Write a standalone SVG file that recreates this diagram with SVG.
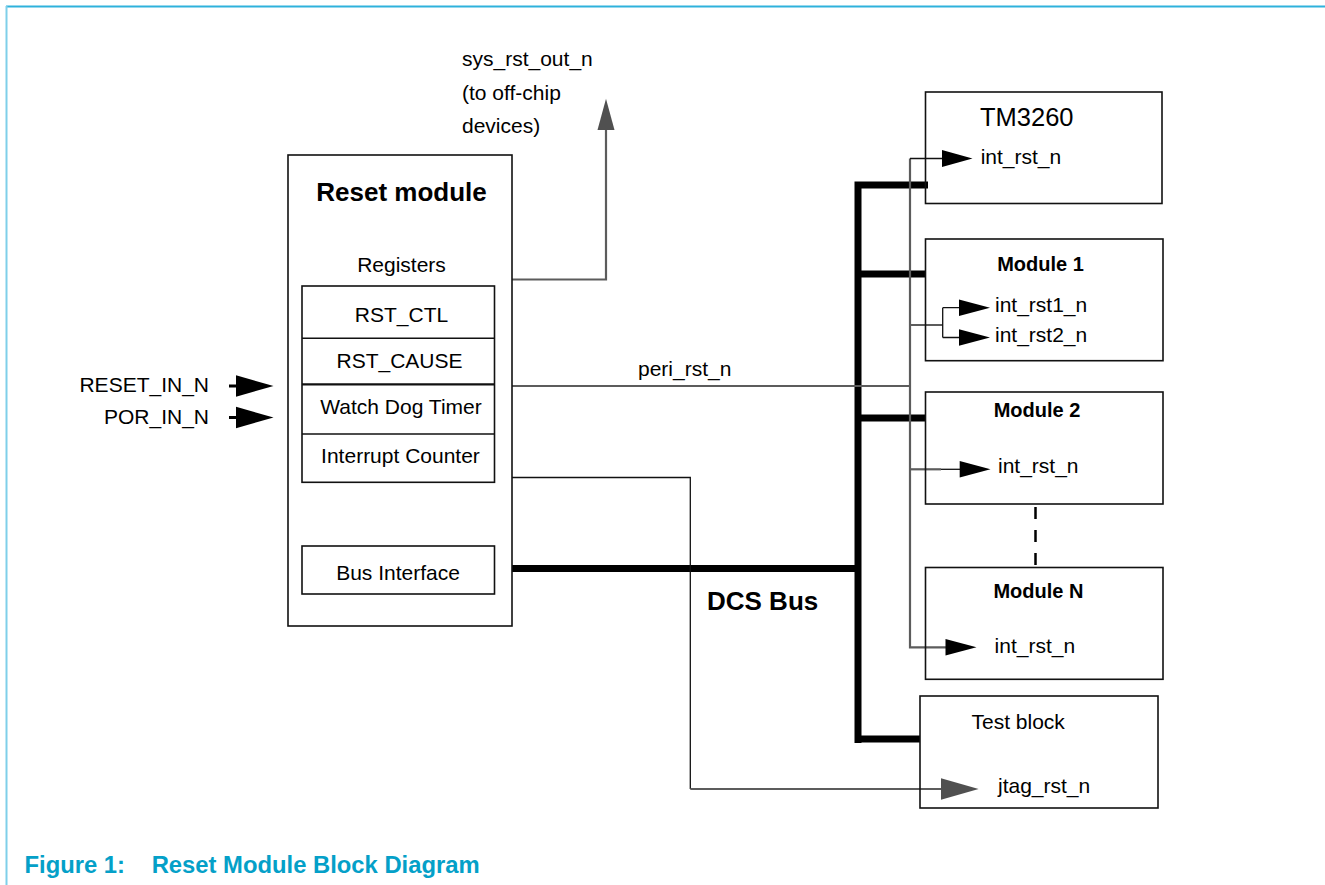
<svg xmlns="http://www.w3.org/2000/svg" width="1325" height="885" viewBox="0 0 1325 885">
<style>
  text { font-family: "Liberation Sans", Arial, sans-serif; fill: #000; }
  .t { font-size: 21px; }
  .b { font-weight: bold; }
  .box { fill: #fff; stroke: #111; stroke-width: 1.6; }
  .reg { fill: none; stroke: #111; stroke-width: 1.6; }
  .gray { fill: none; stroke: #5c5c5c; stroke-width: 2.2; }
  .thin { fill: none; stroke: #111; stroke-width: 1.3; }
  .bus { fill: none; stroke: #000; stroke-width: 7; }
  .head { fill: #000; }
  .ghead { fill: #505050; }
  .cap { font-size: 23.8px; font-weight: bold; fill: #04a0c8; }
</style>

<!-- frame -->
<g id="frame">
  <line x1="6" y1="6.5" x2="1325" y2="6.5" stroke="#2fb2dc" stroke-width="2"/>
  <line x1="6.5" y1="6" x2="6.5" y2="885" stroke="#7fcfe9" stroke-width="2"/>
</g>

<!-- connectors -->
<g id="connectors">
  <!-- DCS bus -->
  <path class="bus" d="M494,568.5 H858 M858,181.5 V743 M855,185 H928 M858,274 H926 M858,418 H926 M858,739 H920"/>
  <!-- sys_rst_out_n -->
  <path class="gray" d="M510,279.5 H606 V126"/>
  <polygon class="ghead" points="606,98.7 597.5,130 614.5,130"/>
  <!-- peri_rst_n -->
  <path class="gray" d="M512,386 H910"/>
  <path class="gray" d="M910,158.5 V647.3 H946"/>
  <!-- TM3260 -->
  <path class="thin" d="M910,158.5 H943"/>
  <polygon class="head" points="972.5,158.5 942,150 942,167"/>
  <!-- Module 1 -->
  <path class="gray" d="M910,325 H942.7"/>
  <path class="thin" d="M942.7,307.7 V337.5 M942.7,307.7 H960 M942.7,337.5 H960"/>
  <polygon class="head" points="990,307.7 959,299.4 959,316"/>
  <polygon class="head" points="990,337.5 959,329.2 959,345.8"/>
  <!-- Module 2 -->
  <path class="gray" d="M910,469.3 H941"/>
  <path class="thin" d="M941,469.3 H961"/>
  <polygon class="head" points="990.5,469.3 959.7,461 959.7,477.6"/>
  <!-- Module N -->
  <polygon class="head" points="976.5,647.3 945.5,639 945.5,655.6"/>
  <!-- dashed between Module 2 and N -->
  <line x1="1035.5" y1="504" x2="1035.5" y2="568" stroke="#000" stroke-width="2.5" stroke-dasharray="12,11" stroke-dashoffset="-3"/>
  <!-- Interrupt counter to jtag -->
  <path class="thin" d="M494,477.5 H690.3 V789"/>
  <path class="gray" d="M690.3,789 H943"/>
  <polygon class="ghead" points="978.6,789 941,778.2 941,799.8"/>
  <!-- external inputs -->
  <path d="M229,386 H238 M229,417.5 H238" stroke="#000" stroke-width="3"/>
  <polygon class="head" points="273.5,386 236,375.3 236,396.7"/>
  <polygon class="head" points="273.5,417.5 236,406.8 236,428.2"/>
</g>

<!-- labels on connectors -->
<g id="signal-labels">
  <text class="t" x="462" y="66">sys_rst_out_n</text>
  <text class="t" x="462" y="100">(to off-chip</text>
  <text class="t" x="462" y="133">devices)</text>
  <text class="t" x="638" y="376">peri_rst_n</text>
  <text class="t" x="209" y="392" text-anchor="end">RESET_IN_N</text>
  <text class="t" x="209" y="423.5" text-anchor="end">POR_IN_N</text>
  <text class="b" x="707" y="609.5" font-size="26">DCS Bus</text>
</g>

<!-- Reset module -->
<g id="reset-module">
  <rect class="box" x="288" y="155" width="224" height="471"/>
  <text class="b" x="401.5" y="201" font-size="26" text-anchor="middle">Reset module</text>
  <text class="t" x="401.5" y="272" text-anchor="middle">Registers</text>
</g>
<g id="registers">
  <rect class="reg" x="302" y="286" width="192.5" height="196.3"/>
  <line class="reg" x1="302" y1="338.3" x2="494.5" y2="338.3"/>
  <line x1="302" y1="384.3" x2="494.5" y2="384.3" stroke="#111" stroke-width="2.3"/>
  <line class="reg" x1="302" y1="434" x2="494.5" y2="434"/>
  <text class="t" x="401.5" y="321.7" text-anchor="middle">RST_CTL</text>
  <text class="t" x="399.5" y="367.7" text-anchor="middle">RST_CAUSE</text>
  <text class="t" x="401" y="414.3" text-anchor="middle">Watch Dog Timer</text>
  <text class="t" x="400.5" y="463.3" text-anchor="middle">Interrupt Counter</text>
</g>
<g id="bus-interface">
  <rect class="reg" x="302" y="546" width="192.5" height="48"/>
  <text class="t" x="398" y="580" text-anchor="middle">Bus Interface</text>
</g>

<!-- TM3260 -->
<g id="tm3260">
  <rect class="reg" x="925.5" y="92" width="236.5" height="111.5"/>
  <text x="980" y="125.7" font-size="25.5">TM3260</text>
  <text class="t" x="980.7" y="164">int_rst_n</text>
</g>

<!-- Module 1 -->
<g id="module1">
  <rect class="reg" x="925.5" y="239" width="237.5" height="121.7"/>
  <text class="b" x="1040.5" y="270.7" font-size="20" text-anchor="middle">Module 1</text>
  <text class="t" x="995" y="311.7">int_rst1_n</text>
  <text class="t" x="995" y="341.7">int_rst2_n</text>
</g>

<!-- Module 2 -->
<g id="module2">
  <rect class="reg" x="925.5" y="392" width="237.5" height="112"/>
  <text class="b" x="1037" y="416.7" font-size="20" text-anchor="middle">Module 2</text>
  <text class="t" x="998" y="472.7">int_rst_n</text>
</g>

<!-- Module N -->
<g id="moduleN">
  <rect class="reg" x="925.5" y="567.5" width="237.5" height="111.8"/>
  <text class="b" x="1038.4" y="598.3" font-size="20" text-anchor="middle">Module N</text>
  <text class="t" x="994.6" y="652.7">int_rst_n</text>
</g>

<!-- Test block -->
<g id="test-block">
  <rect class="reg" x="920" y="696" width="238" height="112"/>
  <text class="t" x="971.5" y="729">Test block</text>
  <text class="t" x="998" y="792.7">jtag_rst_n</text>
</g>

<!-- caption -->
<g id="caption">
  <text class="cap" x="24.5" y="873.3">Figure 1:</text>
  <text class="cap" x="151.7" y="873.3">Reset Module Block Diagram</text>
</g>
</svg>
